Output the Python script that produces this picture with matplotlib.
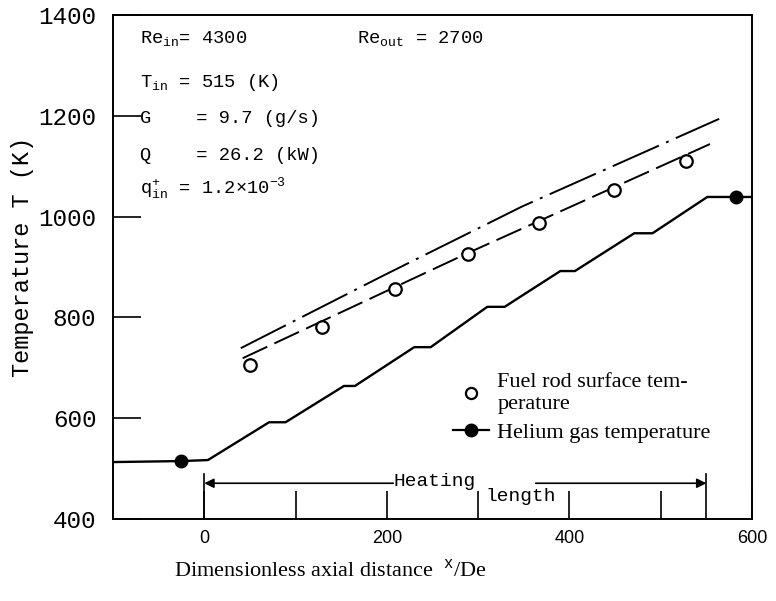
import numpy as np
import matplotlib
matplotlib.use("Agg")
import matplotlib.pyplot as plt
from matplotlib.lines import Line2D

plt.rcParams['mathtext.fontset'] = 'custom'
plt.rcParams['mathtext.rm'] = 'Liberation Mono'
plt.rcParams['mathtext.tt'] = 'Liberation Mono'
plt.rcParams['mathtext.it'] = 'Liberation Mono'

MONO = 'Liberation Mono'
SERIF = 'Liberation Serif'

# ==========================================
# DATA
# ==========================================
# Helium gas temperature (solid, stepped at spacer grids)
gas_x = [-100, -25, 4, 71, 89, 153, 165, 230, 248, 310, 329, 390, 406, 471, 491, 551, 582, 598]
gas_T = [513, 515, 517, 592, 592, 664, 664, 741, 741, 821, 821, 892, 892, 967, 967, 1039, 1039, 1039]
gas_marker_x = [-25, 582]
gas_marker_T = [515, 1039]

# Fuel rod surface temperature (measured, open circles)
rod_x = [50, 129, 209, 289, 367, 449, 528]
rod_T = [705, 781, 856, 926, 987, 1053, 1110]

# Calculated curves
dash_x = [42, 289, 554]
dash_T = [719, 928, 1144]
dashdot_x = [40, 195, 348, 564]
dashdot_T = [739, 882, 1020, 1194]

heat_start, heat_end = 0, 550
x_major = [0, 200, 400, 600]
x_minor = [100, 300, 500]
y_major = [400, 600, 800, 1000, 1200, 1400]

params = [
    r'Re$_{\mathtt{in}}$= 4300',
    r'T$_{\mathtt{in}}$ = 515 (K)',
    'G    = 9.7 (g/s)',
    'Q    = 26.2 (kW)',
    r'q$^{+}_{\mathtt{in}}$ = 1.2×10$^{-3}$',
]
param_y = [0.944, 0.857, 0.786, 0.712, 0.647]

# ==========================================
# FIGURE
# ==========================================
fig = plt.figure(figsize=(7.76, 6.01), dpi=100)
ax = fig.add_axes([0.1456, 0.1364, 0.8235, 0.8386])

ax.plot(gas_x, gas_T, color='black', linewidth=1.7)
ax.plot(gas_marker_x, gas_marker_T, 'o', color='black', markersize=9)
ax.plot(rod_x, rod_T, 'o', markerfacecolor='white', markeredgecolor='black',
        markersize=9, markeredgewidth=1.6, linestyle='none', zorder=3)
ax.plot(dash_x, dash_T, color='black', linewidth=1.4, dashes=(14, 4))
ax.plot(dashdot_x, dashdot_T, color='black', linewidth=1.4, dashes=(26, 4, 1.5, 4))

# Heating length marker
for xv in (heat_start, heat_end):
    ax.plot([xv, xv], [400, 489], color='black', linewidth=1.2)
ax.annotate('', xy=(heat_start, 471), xytext=(207, 471),
            arrowprops=dict(arrowstyle='-|>', color='black', lw=1.2, mutation_scale=14,
                            shrinkA=0, shrinkB=0))
ax.annotate('', xy=(heat_end, 471), xytext=(363, 471),
            arrowprops=dict(arrowstyle='-|>', color='black', lw=1.2, mutation_scale=14,
                            shrinkA=0, shrinkB=0))
ax.text(207, 474, 'Heating', family=MONO, fontsize=14, va='center', ha='left')
ax.text(308, 445, 'length', family=MONO, fontsize=14, va='center', ha='left')

# Operating condition text block
for s, yy in zip(params, param_y):
    ax.text(0.042, yy, s, transform=ax.transAxes, family=MONO, fontsize=13.5, va='baseline')
ax.text(0.382, 0.944, r'Re$_{\mathtt{out}}$ = 2700', transform=ax.transAxes,
        family=MONO, fontsize=13.5, va='baseline')

# Axes
ax.set_xlim(-100, 600)
ax.set_ylim(400, 1400)
ax.set_xticks(x_major)
ax.set_xticks(x_minor, minor=True)
ax.set_yticks(y_major)
ax.tick_params(axis='both', which='both', direction='in', length=20, width=1.2)
ax.tick_params(axis='x', pad=8)
ax.tick_params(axis='y', pad=12)
for lab in ax.get_yticklabels():
    lab.set_family(MONO)
    lab.set_fontsize(17.5)
for lab in ax.get_xticklabels():
    lab.set_family('Liberation Sans')
    lab.set_fontsize(13)
for sp in ax.spines.values():
    sp.set_linewidth(1.4)

ax.set_ylabel('Temperature T (K)', family=MONO, fontsize=17)
ax.yaxis.set_label_coords(-0.124, 0.52)
ax.set_xlabel(r'Dimensionless axial distance  $^{\mathrm{x}}$/De', family=SERIF, fontsize=16)
ax.xaxis.set_label_coords(0.34, -0.08)

# Legend
handles = [
    Line2D([], [], marker='o', linestyle='none', markerfacecolor='white',
           markeredgecolor='black', markersize=8, markeredgewidth=1.6),
    Line2D([], [], marker='o', color='black', markersize=9, linewidth=1.6),
]
labels = ['Fuel rod surface tem-\nperature', 'Helium gas temperature']
ax.legend(handles, labels, loc='upper left', bbox_to_anchor=(0.532, 0.289),
          frameon=False, prop={'family': SERIF, 'size': 16}, handlelength=1.6,
          handletextpad=0.4, labelspacing=0.35, borderpad=0, borderaxespad=0)

fig.savefig('out.png', dpi=100)
